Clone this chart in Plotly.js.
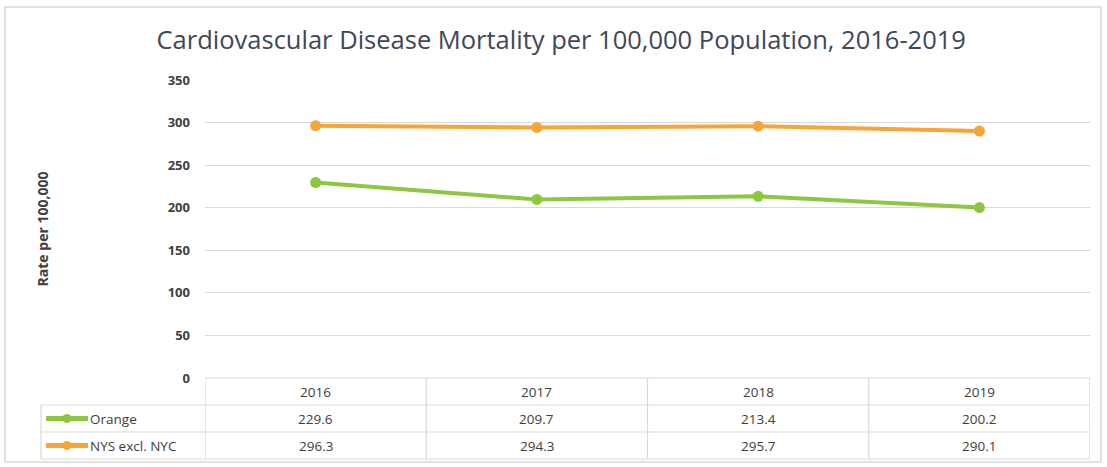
<!DOCTYPE html>
<html>
<head>
<meta charset="utf-8">
<script src="https://cdn.plot.ly/plotly-3.0.1.min.js"></script>
<style>html,body{margin:0;padding:0;background:#fff;}#chart{width:1107px;height:467px;}</style>
</head>
<body>
<div id="chart"></div>
<script>
const years = ["2016", "2017", "2018", "2019"];
const seriesNames = ["Orange", "NYS excl. NYC"];
const orangeValues = [229.6, 209.7, 213.4, 200.2];
const nysValues = [296.3, 294.3, 295.7, 290.1];
const seriesColors = ["#8DC63F", "#F7A535"];
const yTicks = [0, 50, 100, 150, 200, 250, 300, 350];

const allValues = [orangeValues, nysValues];

const traces = allValues.map((vals, i) => ({
  type: "scatter",
  mode: "lines+markers",
  name: seriesNames[i],
  x: years,
  y: vals,
  line: {color: seriesColors[i], width: 4},
  marker: {color: seriesColors[i], size: 11},
  cliponaxis: false,
  showlegend: false
}));

// Table geometry (paper coords, below plot)
const plotL = 205, plotR = 1090, plotT = 80, plotB = 378;
const pw = plotR - plotL, ph = plotB - plotT;
const py = px => (plotB - px) / ph;        // pixel y -> paper y
const pxX = px => (px - plotL) / pw;       // pixel x -> paper x
const rowEdges = [378, 405, 432, 459].map(py);
const leftEdge = pxX(41);
const borderColor = "#d9d9d9";

const shapes = [];
// outer border
shapes.push({type: "rect", xref: "paper", yref: "paper",
  x0: pxX(5), x1: pxX(1101), y0: py(462), y1: py(7),
  line: {color: "#d9d9d9", width: 1.5}, fillcolor: "rgba(0,0,0,0)", layer: "below"});
// table vertical lines at category boundaries
for (let k = 0; k <= years.length; k++) {
  shapes.push({type: "line", xref: "x", yref: "paper",
    x0: k - 0.5, x1: k - 0.5, y0: rowEdges[0], y1: rowEdges[3],
    line: {color: borderColor, width: 1.2}});
}
// left cell vertical line
shapes.push({type: "line", xref: "paper", yref: "paper",
  x0: leftEdge, x1: leftEdge, y0: rowEdges[1], y1: rowEdges[3],
  line: {color: borderColor, width: 1.2}});
// horizontal lines
shapes.push({type: "line", xref: "x", yref: "paper",
  x0: -0.5, x1: years.length - 0.5, y0: rowEdges[0], y1: rowEdges[0],
  line: {color: borderColor, width: 1.2}});
for (let r = 1; r <= 3; r++) {
  shapes.push({type: "line", xref: "paper", yref: "paper",
    x0: leftEdge, x1: 1, y0: rowEdges[r], y1: rowEdges[r],
    line: {color: borderColor, width: 1.2}});
}
// legend keys in row label cells
for (let i = 0; i < seriesNames.length; i++) {
  const yc = (rowEdges[i + 1] + rowEdges[i + 2]) / 2;
  shapes.push({type: "line", xref: "paper", yref: "paper",
    x0: pxX(46), x1: pxX(88), y0: yc, y1: yc,
    line: {color: seriesColors[i], width: 5}});
  const r = 4.5 / pw, rh = 4.5 / ph;
  shapes.push({type: "circle", xref: "paper", yref: "paper",
    x0: pxX(67) - r, x1: pxX(67) + r, y0: yc - rh, y1: yc + rh,
    line: {color: seriesColors[i], width: 0}, fillcolor: seriesColors[i]});
}

const annotations = [];
const tFont = {family: "'Open Sans', sans-serif", size: 13.5, color: "#404040"};
years.forEach((yr, j) => {
  annotations.push({xref: "x", yref: "paper", x: j, y: (rowEdges[0] + rowEdges[1]) / 2,
    text: yr, showarrow: false, font: tFont, xanchor: "center", yanchor: "middle"});
});
allValues.forEach((vals, i) => {
  const yc = (rowEdges[i + 1] + rowEdges[i + 2]) / 2;
  annotations.push({xref: "paper", yref: "paper", x: pxX(88), y: yc,
    text: seriesNames[i], showarrow: false, font: tFont, xanchor: "left", yanchor: "middle"});
  vals.forEach((v, j) => {
    annotations.push({xref: "x", yref: "paper", x: j, y: yc,
      text: v.toFixed(1), showarrow: false, font: tFont, xanchor: "center", yanchor: "middle"});
  });
});

const layout = {
  width: 1107, height: 467,
  margin: {l: plotL, r: 1107 - plotR, t: plotT, b: 467 - plotB, pad: 0},
  paper_bgcolor: "#ffffff", plot_bgcolor: "#ffffff",
  title: {text: "Cardiovascular Disease Mortality per 100,000 Population, 2016-2019",
    font: {family: "'Open Sans', sans-serif", size: 25.5, color: "#404855"},
    x: 0.507, xanchor: "center", y: 0.915, yanchor: "middle"},
  xaxis: {type: "category", range: [-0.5, years.length - 0.5], showticklabels: false,
    showgrid: false, zeroline: false, showline: false, fixedrange: true},
  yaxis: {range: [0, 350], tickvals: yTicks, showgrid: true, gridcolor: "#d9d9d9", gridwidth: 1.2,
    zeroline: false, showline: false, ticks: "", ticklabelstandoff: 14,
    tickfont: {family: "'Open Sans', sans-serif", size: 13, color: "#404040", weight: "bold"},
    title: {text: "Rate per 100,000", standoff: 115,
      font: {family: "'Open Sans', sans-serif", size: 14, color: "#404040", weight: "bold"}}},
  shapes: shapes,
  annotations: annotations,
  showlegend: false
};

Plotly.newPlot("chart", traces, layout, {displayModeBar: false, staticPlot: true});
</script>
</body>
</html>
